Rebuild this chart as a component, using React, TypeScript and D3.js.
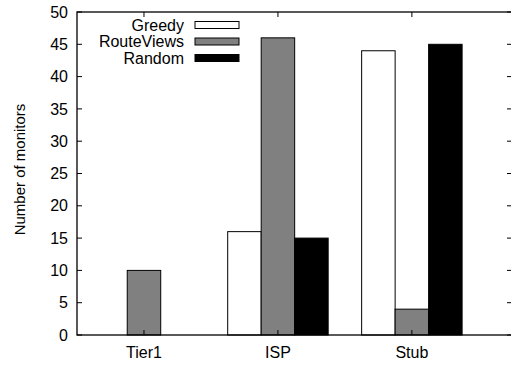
import React from "react";
import * as d3 from "d3";

const categories = ["Tier1", "ISP", "Stub"];
const seriesNames = ["Greedy", "RouteViews", "Random"];
const greedy = [0, 16, 44];
const routeViews = [10, 46, 4];
const random = [0, 15, 45];
const yTicks = [0, 5, 10, 15, 20, 25, 30, 35, 40, 45, 50];
const fills = ["#ffffff", "#808080", "#000000"];

const W = 511;
const H = 367;
const left = 77;
const right = 511;
const top = 12;
const bottom = 335;

export default function App() {
  const x = d3.scaleLinear().domain([-0.5, 2.74]).range([left, right]);
  const y = d3.scaleLinear().domain([0, 50]).range([bottom, top]);
  const series = [greedy, routeViews, random];
  const bw = 0.25;
  const font = "'Liberation Sans', Arial, Helvetica, sans-serif";
  const fs = 16;
  return (
    <svg width={W} height={H} style={{ position: "absolute", left: 0, top: 0, background: "#fff" }} fontFamily={font}>
      <rect x={0} y={0} width={W} height={H} fill="#fff" />
      {series.map((vals, s) =>
        vals.map((v, i) => {
          const x0 = x(i + (s - 1) * bw - bw / 2);
          const x1 = x(i + (s - 1) * bw + bw / 2);
          return (
            <rect
              key={`${s}-${i}`}
              x={x0}
              y={y(v)}
              width={x1 - x0}
              height={y(0) - y(v)}
              fill={fills[s]}
              stroke="#000"
              strokeWidth={1}
            />
          );
        })
      )}
      {/* frame */}
      <rect x={left} y={top} width={right - left + 2} height={bottom - top} fill="none" stroke="#000" strokeWidth={1.3} />
      {/* y ticks */}
      {yTicks.map((t) => (
        <g key={t}>
          <line x1={left} x2={left + 5} y1={y(t)} y2={y(t)} stroke="#000" />
          <line x1={right - 4} x2={right} y1={y(t)} y2={y(t)} stroke="#000" />
          <text x={68} y={y(t)} dy="0.35em" textAnchor="end" fontSize={fs} fill="#000">
            {t}
          </text>
        </g>
      ))}
      {/* x ticks */}
      {categories.map((c, i) => (
        <g key={c}>
          <line x1={x(i)} x2={x(i)} y1={top} y2={top + 5} stroke="#000" />
          <line x1={x(i)} x2={x(i)} y1={bottom} y2={bottom - 5} stroke="#000" />
          <text x={x(i)} y={358} textAnchor="middle" fontSize={fs} fill="#000">
            {c}
          </text>
        </g>
      ))}
      {/* y label */}
      <text
        transform={`translate(25,${(102 + 237) / 2}) rotate(-90)`}
        textAnchor="middle"
        fontSize={15}
        fill="#000"
      >
        Number of monitors
      </text>
      {/* legend */}
      {seriesNames.map((n, s) => {
        const cy = 25 + s * 16.5;
        return (
          <g key={n}>
            <text x={184} y={cy} dy="0.35em" textAnchor="end" fontSize={fs} fill="#000">
              {n}
            </text>
            <rect x={195} y={cy - 3.5} width={44} height={7} fill={fills[s]} stroke="#000" strokeWidth={1} />
          </g>
        );
      })}
    </svg>
  );
}
